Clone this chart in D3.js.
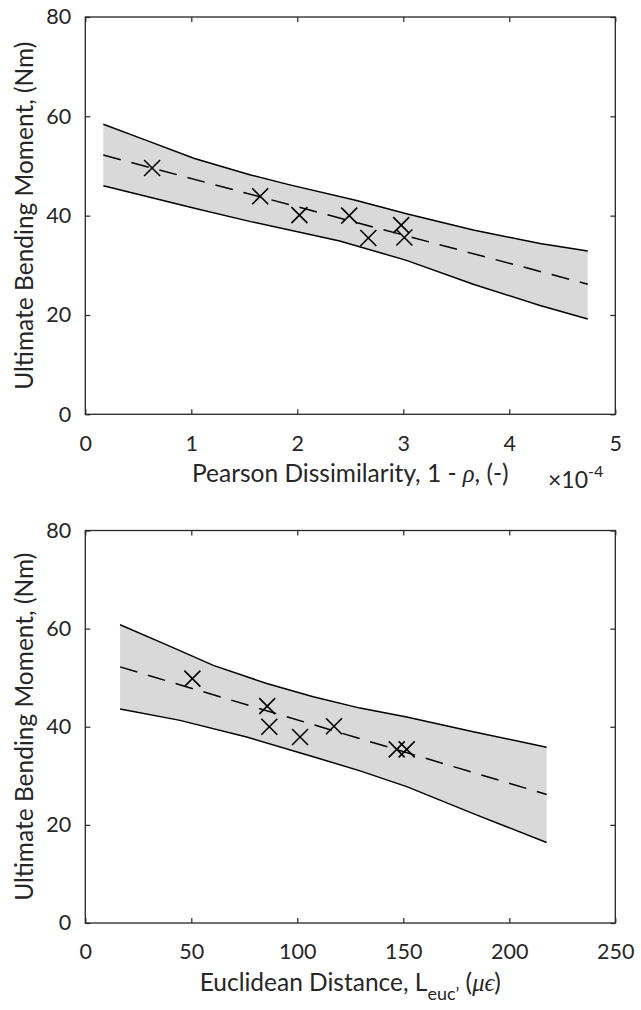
<!DOCTYPE html>
<html>
<head>
<meta charset="utf-8">
<script src="https://cdn.jsdelivr.net/npm/d3@7/dist/d3.min.js"></script>
<style>
  body { margin: 0; background: #fff; }
  svg text { font-family: Lato, "Open Sans", sans-serif; fill: #262626; }
  svg text .greek { font-family: "Liberation Serif", "DejaVu Serif", serif; font-style: italic; }
</style>
</head>
<body>
<svg id="chart" width="641" height="1010"></svg>
<script>
  // y axis is the same for both panels
  var momentTicks = [0, 20, 40, 60, 80];

  // top panel, x in units of 1e-4
  var pearsonTicks = [0, 1, 2, 3, 4, 5];
  var pearsonSamples = [[0.63, 49.6], [1.65, 43.9], [2.02, 40.1], [2.49, 40.0], [2.67, 35.5], [2.98, 38.1], [3.01, 35.6]];
  var pearsonFit = [[0.17, 52.2], [4.74, 26.2]];
  var pearsonUpper = [[0.17, 58.4], [0.57, 55.2], [1.03, 51.5], [1.56, 48.2], [1.93, 46.2], [2.55, 43.1], [3.03, 40.4], [3.66, 37.1], [4.29, 34.4], [4.74, 32.9]];
  var pearsonLower = [[0.17, 46.0], [1.03, 41.5], [1.56, 38.8], [2.40, 34.9], [3.03, 31.0], [3.66, 26.2], [4.29, 21.9], [4.74, 19.2]];

  // bottom panel
  var euclidTicks = [0, 50, 100, 150, 200, 250];
  var euclidSamples = [[50.5, 49.8], [85.8, 44.2], [86.8, 40.0], [101.3, 37.9], [117.3, 40.1], [146.9, 35.4], [151.6, 35.4]];
  var euclidFit = [[16.4, 52.2], [217.6, 26.2]];
  var euclidUpper = [[16.4, 60.8], [36.8, 57.0], [60.4, 52.5], [85.6, 48.8], [107.5, 46.1], [129.6, 43.8], [151.6, 42.0], [183, 39.0], [217.6, 35.8]];
  var euclidLower = [[16.4, 43.6], [44.7, 41.3], [76.1, 37.9], [107.5, 33.9], [129.6, 31.0], [151.6, 27.8], [183, 22.3], [217.6, 16.4]];

  var svg = d3.select("#chart");
  var left = 85.3, right = 615.3;
  var tickFont = 21.5, labelFont = 24.5;

  function drawPanel(cfg) {
    var x = d3.scaleLinear().domain(cfg.xDomain).range([left, right]);
    var y = d3.scaleLinear().domain([0, 80]).range([cfg.bottom, cfg.top]);
    var g = svg.append("g");

    var line = d3.line()
      .x(function (d) { return x(d[0]); })
      .y(function (d) { return y(d[1]); });

    // prediction band
    var band = cfg.upper.concat(cfg.lower.slice().reverse());
    g.append("path")
      .attr("d", line(band) + "Z")
      .attr("fill", "#d9d9d9")
      .attr("stroke", "none");

    [cfg.upper, cfg.lower].forEach(function (edge) {
      g.append("path")
        .attr("d", line(edge))
        .attr("fill", "none")
        .attr("stroke", "#000")
        .attr("stroke-width", 1.5);
    });

    g.append("path")
      .attr("d", line(cfg.fit))
      .attr("fill", "none")
      .attr("stroke", "#000")
      .attr("stroke-width", 1.5)
      .attr("stroke-dasharray", "18,11");

    g.selectAll(".sample")
      .data(cfg.samples)
      .enter()
      .append("path")
      .attr("class", "sample")
      .attr("transform", function (d) { return "translate(" + x(d[0]) + "," + y(d[1]) + ")"; })
      .attr("d", "M-8,-8L8,8M-8,8L8,-8")
      .attr("fill", "none")
      .attr("stroke", "#000")
      .attr("stroke-width", 1.6);

    // axes, ticks point inwards on all four sides
    function tidy(s) {
      s.select(".domain").remove();
      s.attr("font-size", tickFont).attr("color", "#262626");
      s.selectAll(".tick line").attr("stroke-width", 1.2);
    }
    var fmt = d3.format("d");

    g.append("g")
      .attr("transform", "translate(0," + cfg.bottom + ")")
      .call(d3.axisBottom(x).tickValues(cfg.xTicks).tickFormat(fmt).tickSizeInner(-5).tickSizeOuter(0).tickPadding(21))
      .call(tidy);
    g.append("g")
      .attr("transform", "translate(0," + cfg.top + ")")
      .call(d3.axisTop(x).tickValues(cfg.xTicks).tickSizeInner(-5).tickSizeOuter(0).tickFormat(""))
      .call(tidy);
    g.append("g")
      .attr("transform", "translate(" + left + ",0)")
      .call(d3.axisLeft(y).tickValues(momentTicks).tickFormat(fmt).tickSizeInner(-5).tickSizeOuter(0).tickPadding(14))
      .call(tidy);
    g.append("g")
      .attr("transform", "translate(" + right + ",0)")
      .call(d3.axisRight(y).tickValues(momentTicks).tickSizeInner(-5).tickSizeOuter(0).tickFormat(""))
      .call(tidy);

    g.append("rect")
      .attr("x", left)
      .attr("y", cfg.top)
      .attr("width", right - left)
      .attr("height", cfg.bottom - cfg.top)
      .attr("fill", "none")
      .attr("stroke", "#262626")
      .attr("stroke-width", 1.3);

    g.append("text")
      .attr("transform", "translate(33," + (cfg.top + cfg.bottom) / 2 + ") rotate(-90)")
      .attr("text-anchor", "middle")
      .attr("font-size", labelFont)
      .text("Ultimate Bending Moment, (Nm)");

    var xl = g.append("text")
      .attr("x", (left + right) / 2)
      .attr("y", cfg.bottom + 68)
      .attr("text-anchor", "middle")
      .attr("font-size", labelFont);
    cfg.xLabel(xl);

    return g;
  }

  var pearsonPanel = drawPanel({
    xDomain: [0, 5], xTicks: pearsonTicks, top: 17, bottom: 414.3,
    samples: pearsonSamples, fit: pearsonFit, upper: pearsonUpper, lower: pearsonLower,
    xLabel: function (t) {
      t.append("tspan").text("Pearson Dissimilarity, 1 - ");
      t.append("tspan").attr("class", "greek").text("ρ");
      t.append("tspan").text(", (-)");
    }
  });

  // exponent label for the top x axis
  var expo = pearsonPanel.append("text")
    .attr("x", 548)
    .attr("y", 488)
    .attr("font-size", 23);
  expo.append("tspan").text("×10");
  expo.append("tspan").attr("font-size", 16).attr("dy", -11).text("-4");

  drawPanel({
    xDomain: [0, 250], xTicks: euclidTicks, top: 530.5, bottom: 923,
    samples: euclidSamples, fit: euclidFit, upper: euclidUpper, lower: euclidLower,
    xLabel: function (t) {
      t.append("tspan").text("Euclidean Distance, L");
      t.append("tspan").attr("font-size", 18).attr("dy", 9).text("euc’");
      t.append("tspan").attr("dy", -9).text(" (");
      t.append("tspan").attr("class", "greek").text("μϵ");
      t.append("tspan").text(")");
    }
  });
</script>
</body>
</html>
